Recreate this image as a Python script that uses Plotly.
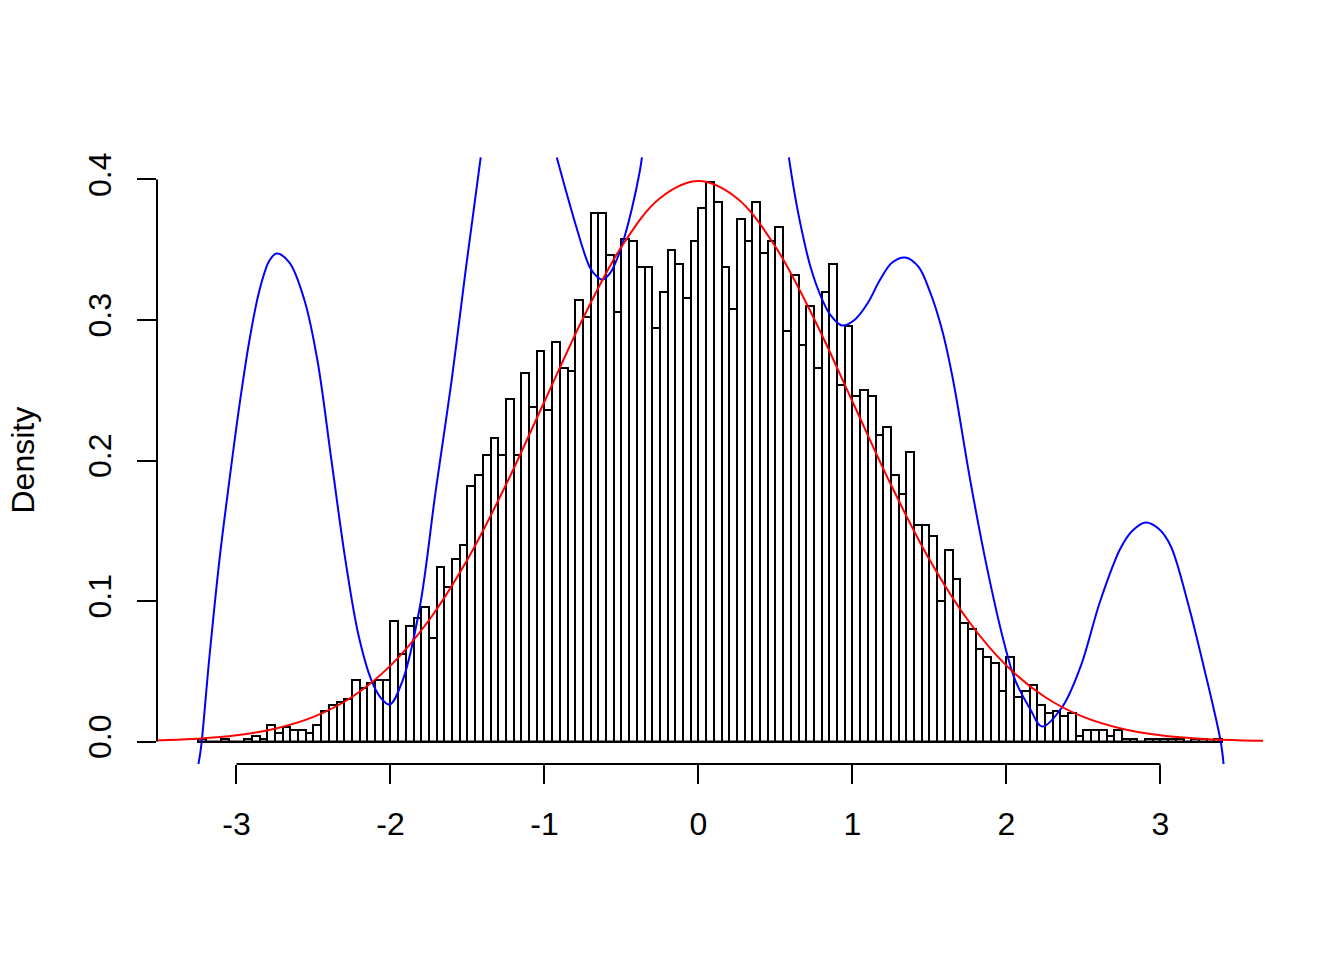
import plotly.graph_objects as go

# ---------------- data ----------------
n_obs = 10000
bin_start = -3.25
bin_width = 0.05
counts = [1, 0, 0, 1, 0, 0, 1, 2, 1, 6,
          3, 5, 4, 4, 3, 6, 11, 13, 14, 15,
          22, 19, 21, 22, 22, 43, 31, 41, 44, 48,
          37, 62, 55, 65, 70, 91, 95, 102, 108, 102,
          122, 102, 131, 119, 139, 118, 142, 133, 132, 157,
          151, 188, 188, 173, 153, 179, 178, 169, 169, 147,
          160, 175, 170, 158, 178, 190, 199, 192, 169, 154,
          186, 178, 192, 174, 178, 183, 146, 166, 141, 155,
          133, 160, 170, 127, 148, 123, 125, 123, 109, 112,
          95, 88, 103, 77, 77, 73, 50, 68, 58, 42,
          40, 33, 30, 28, 18, 30, 16, 18, 20, 13,
          10, 11, 9, 10, 2, 4, 4, 4, 2, 4,
          1, 1, 0, 1, 1, 1, 1, 1, 0, 1,
          1, 0, 1]

# red curve (normal density)
red_x = [-3.516, -3.5, -3.25, -3.0, -2.75, -2.5, -2.25, -2.0, -1.75, -1.5, -1.25, -1.0,
         -0.75, -0.5, -0.25, 0.0, 0.25, 0.5, 0.75, 1.0, 1.25, 1.5, 1.75, 2.0, 2.25,
         2.5, 2.75, 3.0, 3.25, 3.5, 3.666]
red_y = [0.0008, 0.0009, 0.0020, 0.0044, 0.0091, 0.0175, 0.0317, 0.0540, 0.0863, 0.1295,
         0.1827, 0.2420, 0.3011, 0.3521, 0.3867, 0.3989, 0.3867, 0.3521, 0.3011, 0.2420,
         0.1827, 0.1295, 0.0863, 0.0540, 0.0317, 0.0175, 0.0091, 0.0044, 0.0020, 0.0009,
         0.0005]

# blue curve, in three visible pieces
blue1_x = [-3.247, -3.230, -3.176, -3.111, -3.046, -2.981, -2.916, -2.851, -2.786, -2.740,
           -2.656, -2.558, -2.474, -2.383, -2.292, -2.207, -2.123, -2.064, -2.005, -1.921,
           -1.810, -1.706, -1.603, -1.512, -1.414]
blue1_y = [-0.016, -0.0041, 0.0598, 0.1288, 0.1858, 0.2391, 0.2854, 0.3210, 0.3423, 0.3473,
           0.3409, 0.3139, 0.2712, 0.2000, 0.1288, 0.0754, 0.0434, 0.0313, 0.0263, 0.0434,
           0.0954, 0.1786, 0.2569, 0.3352, 0.4157]
blue2_x = [-0.920, -0.861, -0.796, -0.705, -0.660, -0.621, -0.575, -0.530, -0.491, -0.432,
           -0.380, -0.367]
blue2_y = [0.4157, 0.3922, 0.3673, 0.3374, 0.3310, 0.3288, 0.3331, 0.3431, 0.3552, 0.3794,
           0.4064, 0.4157]
blue3_x = [0.587, 0.621, 0.660, 0.725, 0.790, 0.855, 0.933, 1.017, 1.102, 1.180, 1.258,
           1.342, 1.427, 1.505, 1.583, 1.654, 1.765, 1.873, 1.981, 2.058, 2.155, 2.231,
           2.361, 2.480, 2.610, 2.740, 2.818, 2.903, 2.987, 3.065, 3.174, 3.282, 3.390, 3.410]
blue3_y = [0.4157, 0.3922, 0.3694, 0.3388, 0.3181, 0.3039, 0.2961, 0.3004, 0.3125, 0.3288,
           0.3409, 0.3445, 0.3381, 0.3196, 0.2925, 0.2569, 0.1858, 0.1241, 0.0719, 0.0434,
           0.0230, 0.0107, 0.0244, 0.0529, 0.1004, 0.1374, 0.1500, 0.1559, 0.1516, 0.1395,
           0.1004, 0.0529, 0.0007, -0.016]

x_ticks = [-3, -2, -1, 0, 1, 2, 3]
y_ticks = [0.0, 0.1, 0.2, 0.3, 0.4]
y_tick_text = ["0.0", "0.1", "0.2", "0.3", "0.4"]
x_range = [-3.516, 3.666]
y_range = [-0.016, 0.416]

# ---------------- figure ----------------
edges = [bin_start + bin_width * i for i in range(len(counts) + 1)]
centers = [(edges[i] + edges[i + 1]) / 2 for i in range(len(counts))]
density = [c / (n_obs * bin_width) for c in counts]

FONT = "Liberation Sans, Arial, Helvetica, sans-serif"
fig = go.Figure()

fig.add_trace(go.Bar(
    x=centers, y=density, width=bin_width,
    marker=dict(color="rgba(0,0,0,0)", line=dict(color="black", width=2)),
    showlegend=False, hoverinfo="skip"))
# baseline under empty bins
fig.add_trace(go.Scatter(x=[edges[0], edges[-1]], y=[0, 0], mode="lines",
                         line=dict(color="black", width=2), showlegend=False, hoverinfo="skip"))

for bx, by in [(blue1_x, blue1_y), (blue2_x, blue2_y), (blue3_x, blue3_y)]:
    fig.add_trace(go.Scatter(x=bx, y=by, mode="lines",
                             line=dict(color="#0000FF", width=2, shape="spline", smoothing=1.0),
                             showlegend=False, hoverinfo="skip"))

fig.add_trace(go.Scatter(x=red_x, y=red_y, mode="lines",
                         line=dict(color="#FF0000", width=2, shape="spline", smoothing=1.0),
                         showlegend=False, hoverinfo="skip"))

# R-style axis lines spanning only the tick range
fig.add_shape(type="line", xref="x", yref="paper", x0=min(x_ticks), x1=max(x_ticks), y0=0, y1=0,
              line=dict(color="black", width=2))
fig.add_shape(type="line", xref="paper", yref="y", x0=0, x1=0, y0=min(y_ticks), y1=max(y_ticks),
              line=dict(color="black", width=2))

fig.add_annotation(text="Density", xref="paper", yref="paper", x=0, y=0.5,
                   xanchor="center", yanchor="middle", textangle=-90, showarrow=False,
                   xshift=-135, font=dict(family=FONT, size=32, color="black"))

fig.update_layout(
    width=1344, height=960,
    margin=dict(l=157, r=81, t=157, b=196),
    paper_bgcolor="white", plot_bgcolor="white",
    bargap=0, barmode="overlay",
    font=dict(family=FONT, size=32, color="black"),
    xaxis=dict(range=x_range, tickvals=x_ticks, ticktext=[str(v) for v in x_ticks],
               ticks="outside", ticklen=19, tickwidth=2, tickcolor="black",
               showline=False, showgrid=False, zeroline=False,
               ticklabelstandoff=13, tickfont=dict(family=FONT, size=32, color="black")),
    yaxis=dict(range=y_range, tickvals=y_ticks, ticktext=y_tick_text, tickangle=-90,
               ticks="outside", ticklen=19, tickwidth=2, tickcolor="black",
               showline=False, showgrid=False, zeroline=False,
               ticklabelstandoff=13, tickfont=dict(family=FONT, size=32, color="black")),
)

fig.write_html("out.html", config={"displayModeBar": False},
               post_script="document.body.style.margin='0';document.body.style.padding='0';")
